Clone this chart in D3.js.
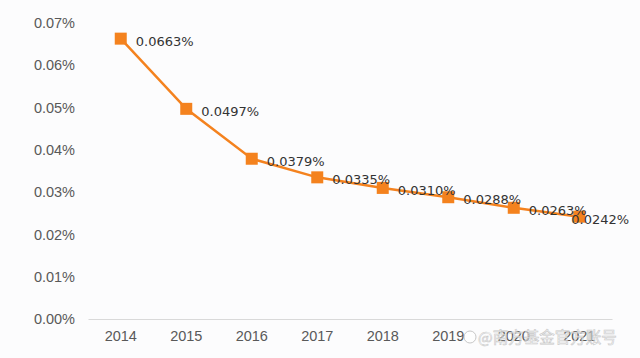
<!DOCTYPE html>
<html><head><meta charset="utf-8">
<script src="https://cdn.jsdelivr.net/npm/d3@7/dist/d3.min.js"></script>
<style>html,body{margin:0;padding:0;background:#fcfcfd;}svg{display:block;}</style>
</head><body>
<svg id="c" width="640" height="358"></svg>
<script>
const years = ["2014","2015","2016","2017","2018","2019","2020","2021"];
const values = [0.0663,0.0497,0.0379,0.0335,0.0310,0.0288,0.0263,0.0242];
const valueLabels = ["0.0663%","0.0497%","0.0379%","0.0335%","0.0310%","0.0288%","0.0263%","0.0242%"];
const yTicks = [0,0.01,0.02,0.03,0.04,0.05,0.06,0.07];

(function(){
const svg = d3.select("#c");
const mL = 88, mR = 612, mT = 23, mB = 319;
const x = d3.scaleBand().domain(years).range([mL, mR]);
const y = d3.scaleLinear().domain([0, 0.07]).range([mB, mT]);
const orange = "#F4821E";

const ya = svg.append("g").attr("transform", `translate(${mL},0)`)
  .call(d3.axisLeft(y).tickValues(yTicks).tickSize(0).tickPadding(13).tickFormat(d => d.toFixed(2) + "%"));
ya.select(".domain").remove();
ya.selectAll("text").attr("fill","#595959").style("font-family","Liberation Sans, Arial, sans-serif").style("font-size","14.5px");

const xa = svg.append("g").attr("transform", `translate(0,${mB})`)
  .call(d3.axisBottom(x).tickSize(0).tickPadding(12));
xa.select(".domain").attr("stroke","#d9d9d9").attr("stroke-width",1);
xa.selectAll("text").attr("fill","#595959").style("font-family","Liberation Sans, Arial, sans-serif").style("font-size","14.5px");

const cx = d => x(d) + x.bandwidth()/2;
const line = d3.line().x((d,i) => cx(years[i])).y(d => y(d));
svg.append("path").datum(values).attr("d", line).attr("fill","none").attr("stroke",orange).attr("stroke-width",2.5);

svg.selectAll("rect.m").data(values).enter().append("rect")
  .attr("x",(d,i)=>cx(years[i])-6).attr("y",d=>y(d)-6).attr("width",12).attr("height",12).attr("fill",orange);

svg.selectAll("text.l").data(values).enter().append("text")
  .attr("x",(d,i)=>cx(years[i])+(i===7?-8:15)).attr("y",(d,i)=>y(d)+7)
  .attr("fill","#333")
  .style("font-family","DejaVu Sans, sans-serif").style("font-size","13px")
  .text((d,i)=>valueLabels[i]);

// watermark
const wm = svg.append("g").attr("opacity",0.8);
wm.append("circle").attr("cx",470).attr("cy",337).attr("r",6).attr("fill","#fff").attr("stroke","#bbb").attr("stroke-width",1);
wm.append("text").attr("x",478).attr("y",343).attr("fill","#ffffff")
  .attr("stroke","#bbb").attr("stroke-width",0.6)
  .style("font-family","Noto Sans CJK SC, sans-serif").style("font-size","15.5px")
  .text("@南方基金官方账号");
})();
</script>
</body></html>
